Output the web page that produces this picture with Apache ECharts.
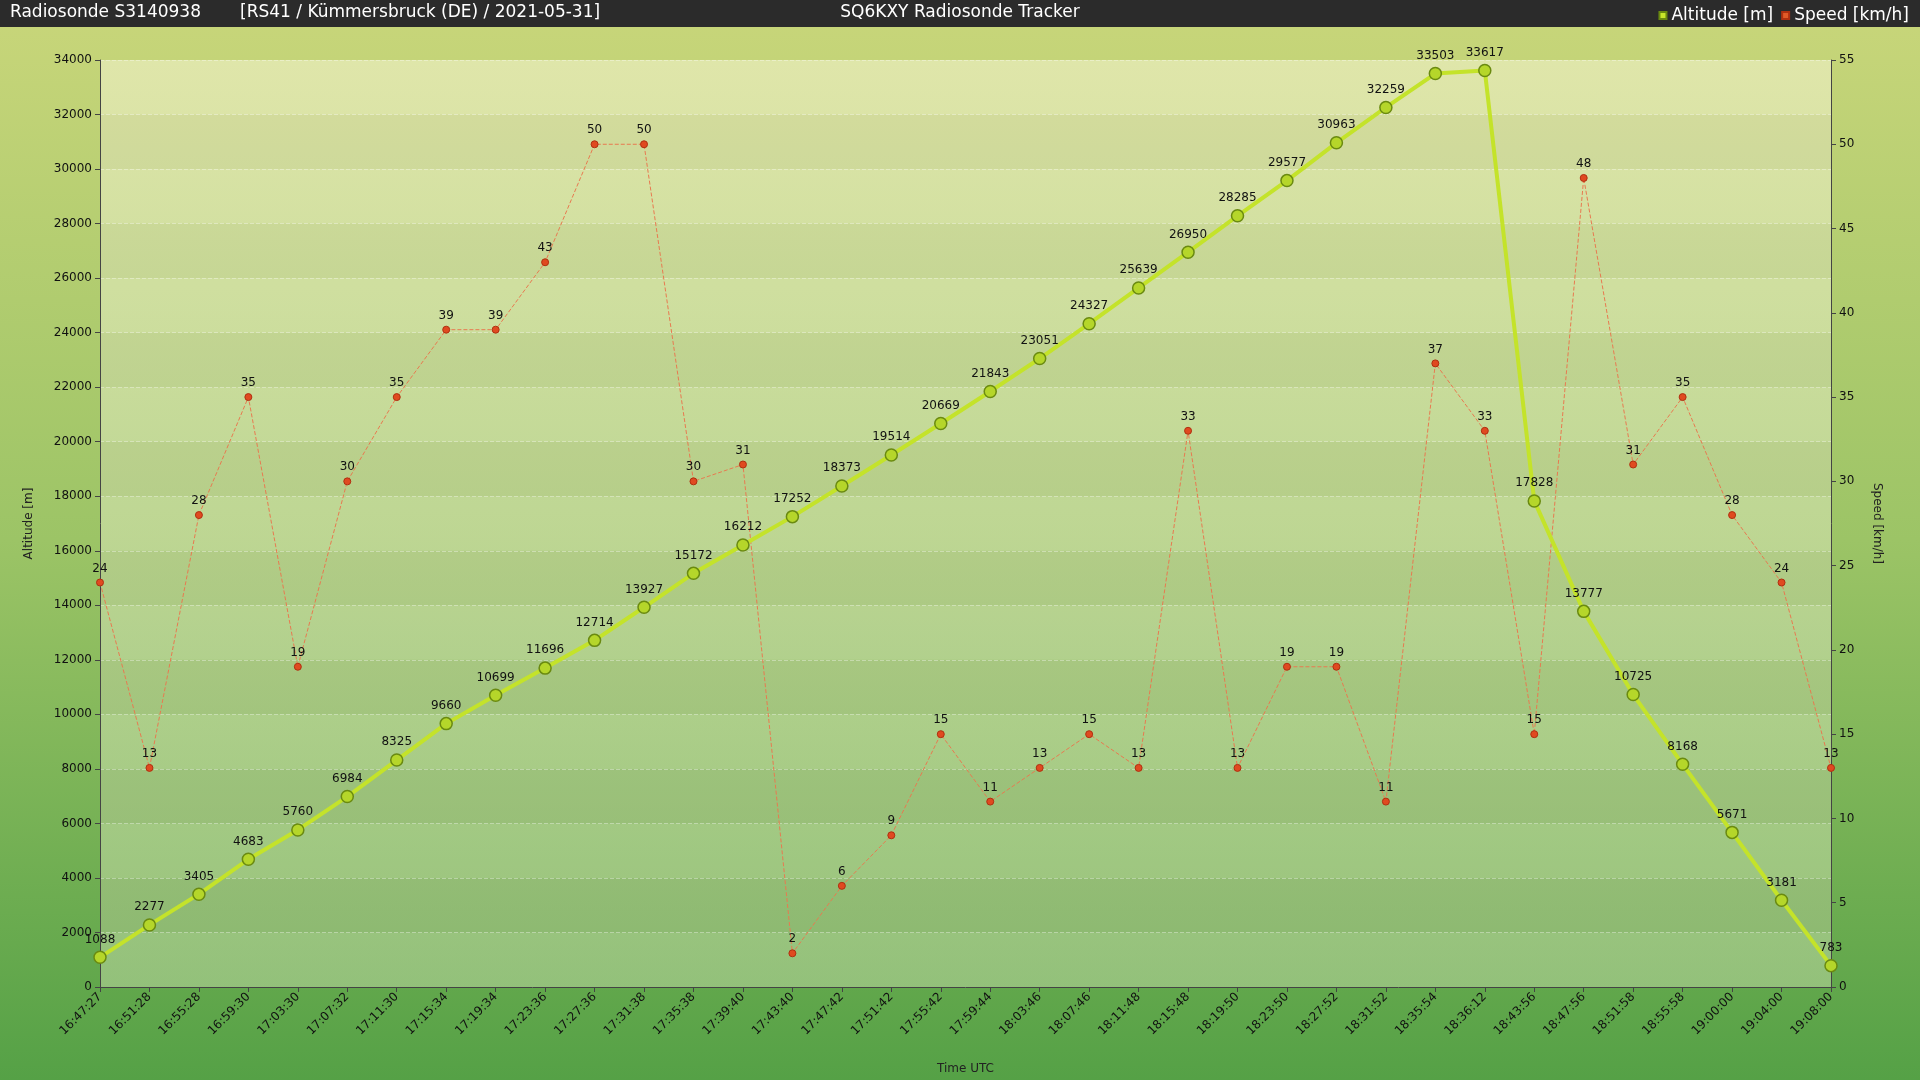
<!DOCTYPE html>
<html><head><meta charset="utf-8">
<script src="https://cdn.jsdelivr.net/npm/echarts@6/dist/echarts.min.js"></script>
<style>html,body{margin:0;padding:0;background:#000}#c{width:1920px;height:1080px}</style>
</head><body><div id="c"></div>
<script>
var times = ['16:47:27','16:51:28','16:55:28','16:59:30','17:03:30','17:07:32','17:11:30','17:15:34','17:19:34','17:23:36','17:27:36','17:31:38','17:35:38','17:39:40','17:43:40','17:47:42','17:51:42','17:55:42','17:59:44','18:03:46','18:07:46','18:11:48','18:15:48','18:19:50','18:23:50','18:27:52','18:31:52','18:35:54','18:36:12','18:43:56','18:47:56','18:51:58','18:55:58','19:00:00','19:04:00','19:08:00']
var altitude = [1088,2277,3405,4683,5760,6984,8325,9660,10699,11696,12714,13927,15172,16212,17252,18373,19514,20669,21843,23051,24327,25639,26950,28285,29577,30963,32259,33503,33617,17828,13777,10725,8168,5671,3181,783]
var speed = [24,13,28,35,19,30,35,39,39,43,50,50,30,31,2,6,9,15,11,13,15,13,33,13,19,19,11,37,33,15,48,31,35,28,24,13]

var chart = echarts.init(document.getElementById('c'))
var font = 'DejaVu Sans'
var option = {
  backgroundColor: new echarts.graphic.LinearGradient(0, 0, 0, 1, [
    { offset: 0, color: '#c9d67a' }, { offset: 0.5, color: '#9cc466' }, { offset: 1, color: '#55a146' }
  ]),
  textStyle: { fontFamily: font },
  graphic: [
    { type: 'rect', left: 0, top: 0, shape: { width: 1920, height: 27 }, style: { fill: '#2b2b2b' } },
    { type: 'text', left: 10, top: 4, style: { text: 'Radiosonde S3140938', fill: '#fff', font: '17px DejaVu Sans' } },
    { type: 'text', left: 240, top: 4, style: { text: '[RS41 / Kümmersbruck (DE) / 2021-05-31]', fill: '#fff', font: '17px DejaVu Sans' } },
    { type: 'text', left: 'center', top: 4, style: { text: 'SQ6KXY Radiosonde Tracker', fill: '#fff', font: '17px DejaVu Sans' } }
  ],
  legend: {
    top: 2, right: 6, itemWidth: 7, itemHeight: 7, itemGap: 8,
    textStyle: { color: '#fff', fontSize: 17, fontFamily: font },
    data: [{ name: 'Altitude [m]', icon: 'rect', itemStyle: { color: '#c8e62a' } },
           { name: 'Speed [km/h]', icon: 'rect', itemStyle: { color: '#e05a28' } }]
  },
  grid: { left: 100, right: 89, top: 60, bottom: 84, show: true, borderWidth: 0,
    backgroundColor: new echarts.graphic.LinearGradient(0, 0, 0, 1, [
      { offset: 0, color: 'rgba(230,235,180,0.75)' }, { offset: 1, color: 'rgba(170,205,140,0.6)' }
    ]) },
  xAxis: {
    type: 'category', data: times, boundaryGap: false,
    name: 'Time UTC', nameLocation: 'middle', nameGap: 76,
    nameTextStyle: { fontSize: 12, color: '#222' },
    axisLine: { lineStyle: { color: '#444' } },
    axisTick: { alignWithLabel: true, lineStyle: { color: '#444' } },
    axisLabel: { rotate: 45, fontSize: 12, color: '#111', interval: 0 },
    splitLine: { show: false }
  },
  yAxis: [{
    type: 'value', min: 0, max: 34000, interval: 2000,
    name: 'Altitude [m]', nameLocation: 'middle', nameGap: 65, nameRotate: 90,
    nameTextStyle: { fontSize: 12, color: '#222' },
    axisLine: { show: true, lineStyle: { color: '#444' } },
    axisTick: { show: true },
    axisLabel: { fontSize: 12, color: '#111', formatter: function (v) { return String(v) } },
    splitLine: { show: true, lineStyle: { color: 'rgba(255,255,255,0.35)', type: 'dashed' } },
    splitArea: { show: true, areaStyle: { color: ['rgba(255,255,255,0.06)', 'rgba(0,0,0,0.03)'] } }
  }, {
    type: 'value', min: 0, max: 55, interval: 5,
    name: 'Speed [km/h]', nameLocation: 'middle', nameGap: 40, nameRotate: -90,
    nameTextStyle: { fontSize: 12, color: '#222' },
    axisLine: { show: true, lineStyle: { color: '#444' } },
    axisTick: { show: true },
    axisLabel: { fontSize: 12, color: '#111' },
    splitLine: { show: false }
  }],
  series: [{
    name: 'Speed [km/h]', type: 'line', yAxisIndex: 1, data: speed,
    symbol: 'circle', symbolSize: 7,
    lineStyle: { color: '#e87a50', width: 1, type: 'dashed' },
    itemStyle: { color: '#e04a20', borderColor: '#b03010', borderWidth: 1 },
    label: { show: true, position: 'top', fontSize: 12, color: '#111', distance: 4 }
  }, {
    name: 'Altitude [m]', type: 'line', yAxisIndex: 0, data: altitude,
    symbol: 'circle', symbolSize: 12,
    lineStyle: { color: '#c4e32a', width: 4 },
    itemStyle: { color: '#b5d62a', borderColor: '#6a8a10', borderWidth: 1.5 },
    label: { show: true, position: 'top', fontSize: 12, color: '#111', distance: 5 }
  }]
}
chart.setOption(option)
</script></body></html>
